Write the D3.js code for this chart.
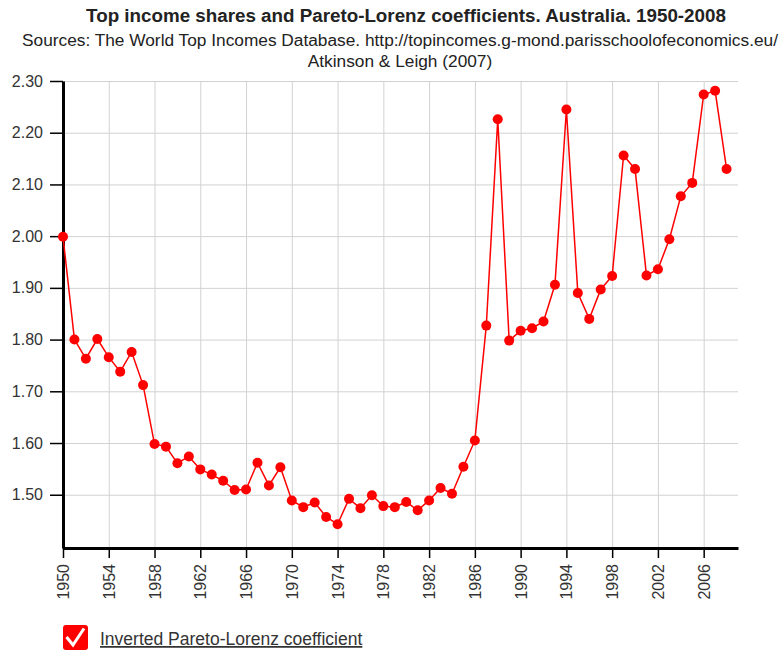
<!DOCTYPE html>
<html>
<head>
<meta charset="utf-8">
<script src="https://cdn.jsdelivr.net/npm/d3@7"></script>
<style>
    body { margin: 0; background: #fff; font-family: "Liberation Sans", Arial, sans-serif; }
    .grid line { stroke: #d2d2d2; stroke-width: 1; }
    .grid path { display: none; }
</style>
</head>
<body>
<script>
var years = d3.range(1950, 2009);

var coefficient = [
    1.999, 1.800, 1.763, 1.801, 1.766, 1.738, 1.776, 1.712, 1.598, 1.593,
    1.561, 1.574, 1.549, 1.539, 1.527, 1.509, 1.510, 1.562, 1.518, 1.553,
    1.489, 1.476, 1.485, 1.457, 1.443, 1.492, 1.474, 1.499, 1.478, 1.476,
    1.486, 1.470, 1.489, 1.513, 1.502, 1.554, 1.605, 1.827, 2.226, 1.798,
    1.817, 1.822, 1.835, 1.906, 2.245, 1.890, 1.840, 1.897, 1.923, 2.156,
    2.130, 1.924, 1.936, 1.994, 2.077, 2.103, 2.274, 2.281, 2.130
];

var yTicks = [1.5, 1.6, 1.7, 1.8, 1.9, 2.0, 2.1, 2.2, 2.3];
var xTicks = d3.range(1950, 2009, 4);

var titleLines = [
    "Top income shares and Pareto-Lorenz coefficients. Australia. 1950-2008",
    "Sources: The World Top Incomes Database. http://topincomes.g-mond.parisschoolofeconomics.eu/",
    "Atkinson & Leigh (2007)"
];
var seriesName = "Inverted Pareto-Lorenz coefficient";

document.addEventListener('DOMContentLoaded', init);

function init() {
    let width = 784;
    let height = 652;
    let left = 63, right = 738, top = 81, bottom = 548;

    let svg = d3.select("body")
        .append("svg")
        .attr("width", width)
        .attr("height", height);

    let x = d3.scaleLinear().domain([1950, 2009]).range([left, right]);
    let y = d3.scaleLinear().domain([1.397, 2.30]).range([bottom, top]);

    // titles
    svg.append("text")
        .attr("x", 406).attr("y", 22)
        .attr("text-anchor", "middle")
        .attr("font-size", "18.8px")
        .attr("font-weight", "bold")
        .attr("fill", "#222")
        .text(titleLines[0]);
    svg.append("text")
        .attr("x", 400).attr("y", 46)
        .attr("text-anchor", "middle")
        .attr("font-size", "17.3px")
        .attr("fill", "#222")
        .text(titleLines[1]);
    svg.append("text")
        .attr("x", 400).attr("y", 67)
        .attr("text-anchor", "middle")
        .attr("font-size", "17.3px")
        .attr("fill", "#222")
        .text(titleLines[2]);

    // grid
    svg.append("g")
        .attr("class", "grid")
        .attr("transform", "translate(0," + bottom + ")")
        .call(d3.axisBottom(x).tickValues(xTicks).tickSize(-(bottom - top)).tickFormat(""));
    svg.append("g")
        .attr("class", "grid")
        .attr("transform", "translate(" + left + ",0)")
        .call(d3.axisLeft(y).tickValues(yTicks).tickSize(-(right - left)).tickFormat(""));

    // axes
    let xAxis = svg.append("g")
        .attr("transform", "translate(0," + bottom + ")")
        .call(d3.axisBottom(x).tickValues(xTicks).tickFormat(d3.format("d")).tickSize(10).tickSizeOuter(0));
    xAxis.select(".domain").attr("stroke", "#000").attr("stroke-width", 3);
    xAxis.selectAll(".tick line").attr("stroke", "#000").attr("stroke-width", 1.5);
    xAxis.selectAll("text")
        .attr("transform", "rotate(-90)")
        .attr("x", -16).attr("y", 0).attr("dy", "0.35em")
        .attr("text-anchor", "end")
        .attr("font-size", "16px")
        .attr("font-family", "Liberation Sans, Arial, sans-serif")
        .attr("fill", "#333");

    let yAxis = svg.append("g")
        .attr("transform", "translate(" + left + ",0)")
        .call(d3.axisLeft(y).tickValues(yTicks).tickFormat(d3.format(".2f")).tickSize(13).tickSizeOuter(0));
    yAxis.select(".domain").attr("stroke", "#000").attr("stroke-width", 3);
    yAxis.selectAll(".tick line").attr("stroke", "#000").attr("stroke-width", 1.5);
    yAxis.selectAll("text")
        .attr("x", -20)
        .attr("font-size", "16px")
        .attr("font-family", "Liberation Sans, Arial, sans-serif")
        .attr("fill", "#333");

    // line
    let data = years.map((d, i) => ({ year: d, value: coefficient[i] }));
    let line = d3.line()
        .x((d) => x(d.year))
        .y((d) => y(d.value));

    svg.append("path")
        .datum(data)
        .attr("d", line)
        .attr("fill", "none")
        .attr("stroke", "#ff0000")
        .attr("stroke-width", 1.5);

    svg.selectAll("circle.pt")
        .data(data)
        .enter()
        .append("circle")
        .attr("class", "pt")
        .attr("cx", (d) => x(d.year))
        .attr("cy", (d) => y(d.value))
        .attr("r", 5)
        .attr("fill", "#ff0000");

    // legend
    let legend = svg.append("g").attr("transform", "translate(63,625)");
    legend.append("rect")
        .attr("width", 25).attr("height", 25)
        .attr("rx", 3)
        .attr("fill", "#ff0000");
    legend.append("path")
        .attr("d", "M3.5,12 L10,20 L21,3.5")
        .attr("fill", "none")
        .attr("stroke", "#fff")
        .attr("stroke-width", 3);
    legend.append("text")
        .attr("x", 37).attr("y", 20)
        .attr("font-size", "17.5px")
        .attr("fill", "#333")
        .attr("text-decoration", "underline")
        .text(seriesName);
}
</script>
</body>
</html>
